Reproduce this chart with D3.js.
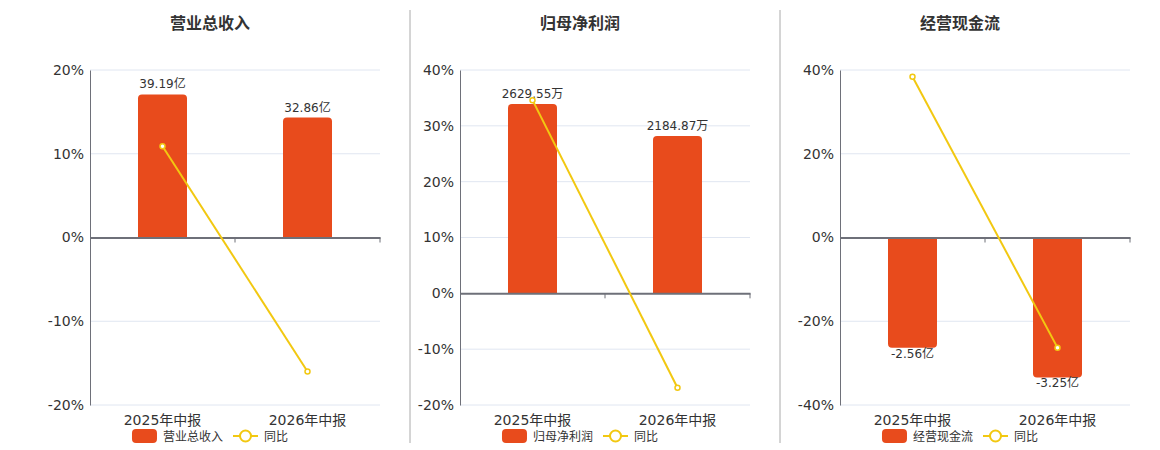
<!DOCTYPE html>
<html>
<head>
<meta charset="utf-8">
<script src="https://cdn.jsdelivr.net/npm/d3@7"></script>
<style>
  body{margin:0;background:#fff;}
  svg{font-family:"DejaVu Sans","Noto Sans CJK SC",sans-serif;}
</style>
</head>
<body>
<svg id="chart" width="1160" height="450"></svg>
<script>
// data
const categories = ["2025年中报", "2026年中报"];
const titles = ["营业总收入", "归母净利润", "经营现金流"];
const barNames = ["营业总收入", "归母净利润", "经营现金流"];
const lineName = "同比";
const barValues = [[39.19, 32.86], [2629.55, 2184.87], [-2.56, -3.25]];
const barLabels = [["39.19亿", "32.86亿"], ["2629.55万", "2184.87万"], ["-2.56亿", "-3.25亿"]];
const yoyValues = [[10.9, -16.0], [34.6, -16.9], [38.4, -26.3]];
const pctTicks = [[-20, -10, 0, 10, 20], [-20, -10, 0, 10, 20, 30, 40], [-40, -20, 0, 20, 40]];
const barDomains = [[-45.9, 45.9], [-1551, 3102], [-3.89, 3.89]];//hidden axis for bars
//
const panelX = [0, 370, 750];
const separators = [410, 780];
const barColor = "#E84B1C";
const lineColor = "#F2C811";
const axisColor = "#6E7079";
const gridColor = "#E0E6F1";
//
const svg = d3.select("#chart");
const plotTop = 70, plotBottom = 405, plotW = 290;

separators.forEach(x => {
    svg.append("line").attr("x1", x).attr("x2", x).attr("y1", 10).attr("y2", 443)
        .style("stroke", "#aaa").style("stroke-width", 1);
});

titles.forEach((title, i) => {
    let ox = panelX[i];
    let left = ox + 90;
    let g = svg.append("g");
    //
    let x = d3.scaleBand().domain(categories).range([left, left + plotW]);
    let ticks = pctTicks[i];
    let y = d3.scaleLinear().domain([ticks[0], ticks[ticks.length - 1]]).range([plotBottom, plotTop]);
    let yb = d3.scaleLinear().domain(barDomains[i]).range([plotBottom, plotTop]);
    let y0 = y(0);
    //
    g.append("text").attr("x", ox + 210).attr("y", 29).attr("text-anchor", "middle")
        .style("font-size", "16px").style("font-weight", "bold").style("fill", "#333")
        .text(title);
    //grid
    ticks.forEach(t => {
        if(t === 0) return;
        g.append("line").attr("x1", left).attr("x2", left + plotW).attr("y1", y(t)).attr("y2", y(t))
            .style("stroke", gridColor).style("stroke-width", 1);
    });
    //y axis
    let yAxis = d3.axisLeft(y).tickValues(ticks).tickSize(0).tickPadding(6).tickFormat(d => d + "%");
    let ya = g.append("g").attr("transform", `translate(${left},0)`).call(yAxis);
    ya.select(".domain").style("stroke", axisColor);
    ya.attr("font-family", null).attr("font-size", null);
    ya.selectAll("text").style("font-size", "14px").style("fill", "#333");
    //bars
    barValues[i].forEach((v, j) => {
        let bw = 49;
        let cx = x(categories[j]) + x.bandwidth() / 2;
        let yv = yb(v);
        let r = 4;
        let x0 = cx - bw / 2;
        let path;
        if(v >= 0){
            path = `M${x0},${y0} V${yv + r} Q${x0},${yv} ${x0 + r},${yv} H${x0 + bw - r} Q${x0 + bw},${yv} ${x0 + bw},${yv + r} V${y0} Z`;
        }else{
            path = `M${x0},${y0} V${yv - r} Q${x0},${yv} ${x0 + r},${yv} H${x0 + bw - r} Q${x0 + bw},${yv} ${x0 + bw},${yv - r} V${y0} Z`;
        }
        g.append("path").attr("d", path).style("fill", barColor);
        g.append("text").attr("x", cx).attr("y", v >= 0 ? yv - 6 : yv + 10)
            .attr("text-anchor", "middle").style("font-size", "12px").style("fill", "#333")
            .text(barLabels[i][j]);
    });
    //x axis (zero line)
    let xAxis = d3.axisBottom(x).tickSize(0).tickFormat("");
    let xa = g.append("g").attr("transform", `translate(0,${y0})`).call(xAxis);
    xa.select(".domain").style("stroke", axisColor).style("stroke-width", 2);
    [1, 2].forEach(k => {
        g.append("line").attr("x1", left + k * x.step()).attr("x2", left + k * x.step())
            .attr("y1", y0).attr("y2", y0 + 5).style("stroke", axisColor);
    });
    //category labels
    categories.forEach(c => {
        g.append("text").attr("x", x(c) + x.bandwidth() / 2).attr("y", 425)
            .attr("text-anchor", "middle").style("font-size", "14px").style("fill", "#333").text(c);
    });
    //yoy line
    let line = d3.line().x((d, j) => x(categories[j]) + x.bandwidth() / 2).y(d => y(d));
    g.append("path").datum(yoyValues[i]).attr("d", line)
        .style("fill", "none").style("stroke", lineColor).style("stroke-width", 2);
    yoyValues[i].forEach((v, j) => {
        g.append("circle").attr("cx", x(categories[j]) + x.bandwidth() / 2).attr("cy", y(v)).attr("r", 2.5)
            .style("fill", "#fff").style("stroke", lineColor).style("stroke-width", 1.5);
    });
    //legend
    let lg = g.append("g");
    lg.append("rect").attr("x", 0).attr("y", -7).attr("width", 25).attr("height", 14).attr("rx", 4)
        .style("fill", barColor);
    let t1 = lg.append("text").attr("x", 31).attr("y", 4.5).style("font-size", "12px").style("fill", "#333")
        .text(barNames[i]);
    let l1 = 31 + t1.node().getComputedTextLength() + 10;
    lg.append("line").attr("x1", l1).attr("x2", l1 + 25).attr("y1", 0).attr("y2", 0)
        .style("stroke", lineColor).style("stroke-width", 2);
    lg.append("circle").attr("cx", l1 + 12.5).attr("cy", 0).attr("r", 5.5)
        .style("fill", "#fff").style("stroke", lineColor).style("stroke-width", 2);
    let t2 = lg.append("text").attr("x", l1 + 31).attr("y", 4.5).style("font-size", "12px").style("fill", "#333")
        .text(lineName);
    let lw = l1 + 31 + t2.node().getComputedTextLength();
    lg.attr("transform", `translate(${ox + 210 - lw / 2},436)`);
});
</script>
</body>
</html>
